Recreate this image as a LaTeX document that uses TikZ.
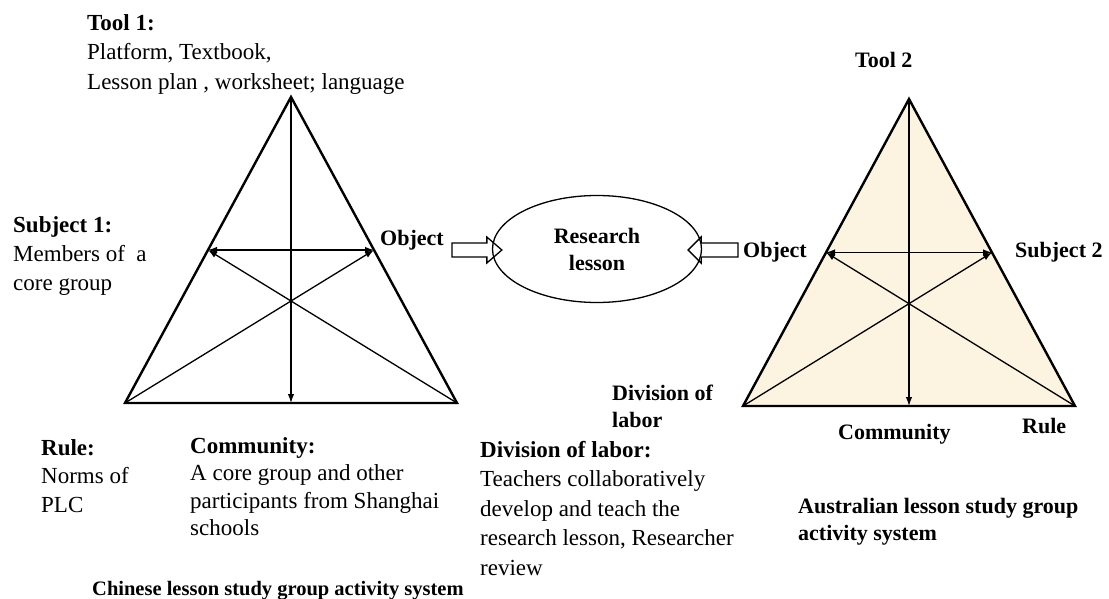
\documentclass[tikz,border=0pt]{standalone}
\usepackage{fontspec}
\setmainfont{Liberation Serif}
\usetikzlibrary{calc,shapes.geometric,arrows.meta}
\definecolor{beige}{RGB}{252,243,225}
\begin{document}
\begin{tikzpicture}[x=1pt,y=-1pt,
  tri/.style={line width=2.4pt, line join=miter},
  inner/.style={line width=1.3pt},
  arr/.style={inner, -{Latex[length=9pt,width=6.5pt]}},
  darr/.style={inner, {Latex[length=9pt,width=6.5pt]}-{Latex[length=9pt,width=6.5pt]}},
  txt/.style={inner sep=0pt, align=left},
  blk/.style={line width=1.3pt, line join=miter},
  lbl/.style={inner sep=0pt, font=\fontsize{22}{26}\selectfont\bfseries}
]
\useasboundingbox (0,0) rectangle (1109,599);

% ---------- left triangle ----------
\coordinate (A1) at (291,97);
\coordinate (L1) at (125,403);
\coordinate (R1) at (457,403);
\coordinate (ML1) at ($(A1)!0.5!(L1)$);
\coordinate (MR1) at ($(A1)!0.5!(R1)$);
\coordinate (MB1) at ($(L1)!0.5!(R1)$);
\draw[tri] (A1) -- (L1) -- (R1) -- cycle;
\draw[arr] (A1) -- (MB1);
\draw[darr] (ML1) -- (MR1);
\draw[arr] (L1) -- (MR1);
\draw[arr] (R1) -- (ML1);

% ---------- right triangle ----------
\coordinate (A2) at (909,99);
\coordinate (L2) at (743,406);
\coordinate (R2) at (1075,406);
\coordinate (ML2) at ($(A2)!0.5!(L2)$);
\coordinate (MR2) at ($(A2)!0.5!(R2)$);
\coordinate (MB2) at ($(L2)!0.5!(R2)$);
\draw[tri, fill=beige] (A2) -- (L2) -- (R2) -- cycle;
\draw[arr] (A2) -- (MB2);
\draw[darr] (ML2) -- (MR2);
\draw[arr] (L2) -- (MR2);
\draw[arr] (R2) -- (ML2);

% ---------- research lesson ----------
\node[draw, ellipse, line width=1.3pt, minimum width=209pt, minimum height=107pt,
      inner sep=0pt, align=center, font=\fontsize{22}{27}\selectfont\bfseries]
      (el) at (597,249) {Research\\lesson};

% block arrows
\coordinate (bl0) at (452,250);
\coordinate (bl1) at ($(el.west)+(10,1)$);
\draw[blk] ($(bl0)+(0,-7)$) -- ($(bl1)+(-15,-7)$) -- ($(bl1)+(-15,-13)$) -- (bl1)
  -- ($(bl1)+(-15,13)$) -- ($(bl1)+(-15,7)$) -- ($(bl0)+(0,7)$) -- cycle;
\coordinate (br0) at (738,250);
\coordinate (br1) at ($(el.east)+(-14,1)$);
\draw[blk] ($(br0)+(0,-7)$) -- ($(br1)+(13,-7)$) -- ($(br1)+(13,-13)$) -- (br1)
  -- ($(br1)+(13,13)$) -- ($(br1)+(13,7)$) -- ($(br0)+(0,7)$) -- cycle;

% ---------- labels, left system ----------
\node[txt, anchor=north west, font=\fontsize{23}{29.5}\selectfont] (tool1) at (87,14)
  {\textbf{Tool 1:}\\Platform, Textbook,\\Lesson plan , worksheet; language};
\node[txt, anchor=north west, font=\fontsize{23}{29}\selectfont] (subj1) at (13,216)
  {\textbf{Subject 1:}\\Members of\ \ a\\core group};
\node[lbl, anchor=base west] (objL) at (380,245) {Object};
\node[txt, anchor=north west, font=\fontsize{23}{28.5}\selectfont] (rule1) at (41,439)
  {\textbf{Rule:}\\Norms of\\PLC};
\node[txt, anchor=north west, font=\fontsize{23}{27.5}\selectfont] (comm1) at (190,437)
  {\textbf{Community:}\\A core group and other\\participants from Shanghai\\schools};
\node[txt, anchor=north west, font=\fontsize{23}{29.5}\selectfont] (div1) at (480,441)
  {\textbf{Division of labor:}\\Teachers collaboratively\\develop and teach the\\research lesson, Researcher\\review};
\node[lbl, anchor=base west, font=\fontsize{20.5}{24}\selectfont\bfseries] (chn) at (92,595)
  {Chinese lesson study group activity system};

% ---------- labels, right system ----------
\node[lbl, anchor=base west] (tool2) at (855,68) {Tool 2};
\node[lbl, anchor=base west] (objR) at (743,257) {Object};
\node[lbl, anchor=base west] (subj2) at (1015,257) {Subject 2};
\node[lbl, anchor=base west] (comm2) at (838,439) {Community};
\node[lbl, anchor=base west] (rule2) at (1022,433) {Rule};
\node[txt, anchor=north west, font=\fontsize{22}{27}\selectfont\bfseries] (div2) at (612,385)
  {Division of\\labor};
\node[txt, anchor=north west, font=\fontsize{22}{27}\selectfont\bfseries] (aus) at (798,498)
  {Australian lesson study group\\activity system};
\end{tikzpicture}
\end{document}
